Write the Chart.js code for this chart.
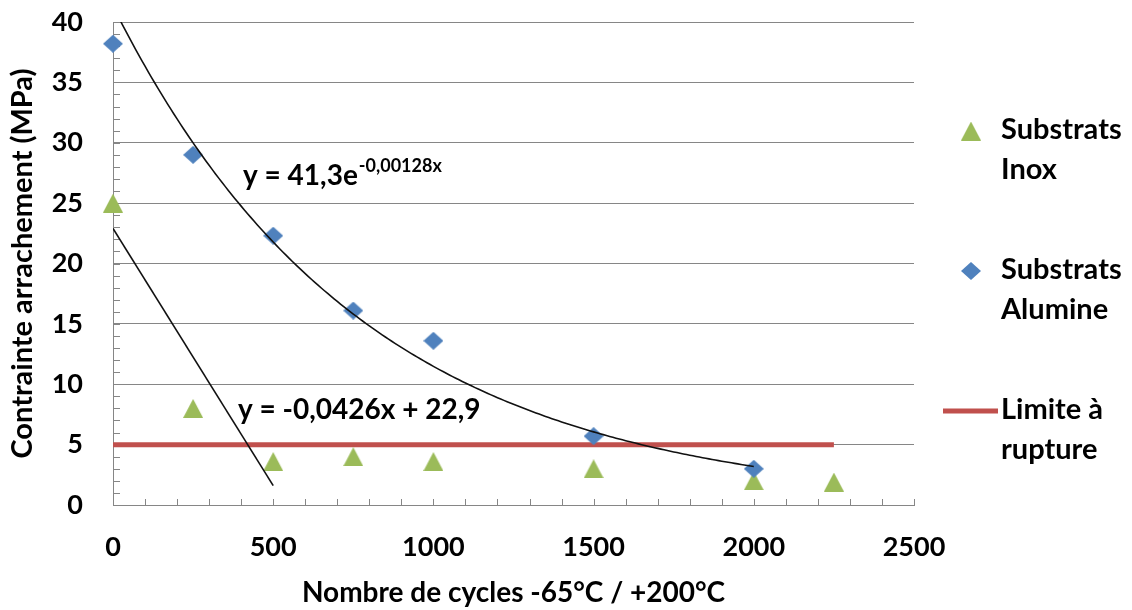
<!DOCTYPE html>
<html>
<head>
<meta charset="utf-8">
<script src="https://cdn.jsdelivr.net/npm/chart.js@4.4.0/dist/chart.umd.min.js"></script>
<style>
  html, body { margin: 0; padding: 0; background: #ffffff; }
  #wrap { width: 1132px; height: 610px; position: relative; }
</style>
</head>
<body>
<div id="wrap"><canvas id="c" width="1132" height="610"></canvas></div>
<script>
// ---------- DATA ----------
const cyclesInox     = [0, 250, 500, 750, 1000, 1500, 2000, 2250];
const stressInox     = [25, 8, 3.6, 4, 3.6, 3, 2, 1.9];
const cyclesAlumine  = [0, 250, 500, 750, 1000, 1500, 2000];
const stressAlumine  = [38.2, 29, 22.3, 16.1, 13.6, 5.7, 3];
const limitCycles    = [0, 2250];
const limitStress    = [5, 5];
const expTrendCoef   = [41.3, -0.00128];   // y = a * e^(b x)
const expTrendRange  = [0, 2000];
const linTrendCoef   = [-0.0426, 22.9];    // y = m x + c
const linTrendRange  = [0, 500];
const xTickValues    = [0, 500, 1000, 1500, 2000, 2500];
const yTickValues    = [0, 5, 10, 15, 20, 25, 30, 35, 40];
const seriesNames    = [['Substrats', 'Inox'], ['Substrats', 'Alumine'], ['Limite à', 'rupture']];
const expEqMain      = 'y = 41,3e';
const expEqSup       = '-0,00128x';
const linEq          = 'y = -0,0426x + 22,9';
const xTitle         = 'Nombre de cycles -65°C / +200°C';
const yTitle         = 'Contrainte arrachement (MPa)';

// ---------- STYLE ----------
const GREEN = '#9BBB59', BLUE = '#4F81BD', RED = '#C0504D', GRID = '#868686';
const FONT = 'Lato';

function makeTriangle() {
  const c = document.createElement('canvas'); c.width = 20; c.height = 19;
  const g = c.getContext('2d'); g.fillStyle = GREEN;
  g.beginPath(); g.moveTo(10, 0); g.lineTo(20, 19); g.lineTo(0, 19); g.closePath(); g.fill();
  return c;
}
function makeDiamond() {
  const c = document.createElement('canvas'); c.width = 20; c.height = 18;
  const g = c.getContext('2d'); g.fillStyle = BLUE;
  g.beginPath(); g.moveTo(10, 0); g.lineTo(20, 9); g.lineTo(10, 18); g.lineTo(0, 9); g.closePath(); g.fill();
  return c;
}
const triImg = makeTriangle();
const diaImg = makeDiamond();

function trendPoints(range, fn, step) {
  const pts = [];
  for (let x = range[0]; x <= range[1] + 1e-9; x += step) pts.push({ x: x, y: fn(x) });
  return pts;
}
const expTrend = trendPoints(expTrendRange, x => expTrendCoef[0] * Math.exp(expTrendCoef[1] * x), 10);
const linTrend = trendPoints(linTrendRange, x => linTrendCoef[0] * x + linTrendCoef[1], 500);

const zip = (xs, ys) => xs.map((x, i) => ({ x: x, y: ys[i] }));

const extras = {
  id: 'extras',
  beforeDatasetsDraw(chart) {
    const { ctx, scales: { x, y } } = chart;
    ctx.save();
    ctx.strokeStyle = GRID; ctx.lineWidth = 1;
    ctx.beginPath();
    for (let v = y.min; v <= y.max; v += 1) {
      const py = Math.round(y.getPixelForValue(v)) + 0.5;
      ctx.moveTo(x.left, py); ctx.lineTo(x.left + 7, py);
    }
    for (let v = x.min; v <= x.max; v += 100) {
      const px = Math.round(x.getPixelForValue(v)) + 0.5;
      ctx.moveTo(px, y.bottom); ctx.lineTo(px, y.bottom - 6);
    }
    ctx.stroke();
    ctx.restore();
  },
  afterDraw(chart) {
    const { ctx } = chart;
    ctx.save();
    ctx.fillStyle = '#000';
    ctx.textBaseline = 'alphabetic';
    ctx.textAlign = 'left';
    // equations
    ctx.font = 'bold 28px ' + FONT;
    ctx.fillText(expEqMain, 243, 185);
    const w = ctx.measureText(expEqMain).width;
    ctx.font = 'bold 18px ' + FONT;
    ctx.fillText(expEqSup, 243 + w + 1, 172);
    ctx.font = 'bold 28px ' + FONT;
    ctx.fillText(linEq, 238, 419);
    // legend
    ctx.textBaseline = 'middle';
    const tops = [130, 270, 410];
    const markers = [triImg, diaImg, null];
    for (let i = 0; i < 3; i++) {
      const cy = tops[i];
      if (markers[i]) {
        const m = markers[i];
        ctx.drawImage(m, 971 - m.width / 2, cy + 1 - m.height / 2);
      } else {
        ctx.strokeStyle = RED; ctx.lineWidth = 5;
        ctx.beginPath(); ctx.moveTo(943, cy + 1); ctx.lineTo(998, cy + 1); ctx.stroke();
      }
      ctx.fillStyle = '#000';
      ctx.font = 'bold 29px ' + FONT;
      ctx.fillText(seriesNames[i][0], 1001, cy);
      ctx.fillText(seriesNames[i][1], 1001, cy + 40);
    }
    ctx.restore();
  }
};

const tickFont = { family: FONT, size: 27, weight: 'bold' };
const titleFont = { family: FONT, size: 28, weight: 'bold' };

new Chart(document.getElementById('c'), {
  type: 'scatter',
  data: {
    datasets: [
      { label: 'Tendance exp', type: 'line', data: expTrend, borderColor: '#111', borderWidth: 1.6,
        pointRadius: 0, fill: false, tension: 0 },
      { label: 'Tendance lin', type: 'line', data: linTrend, borderColor: '#111', borderWidth: 1.6,
        pointRadius: 0, fill: false, tension: 0 },
      { label: seriesNames[1].join(' '), data: zip(cyclesAlumine, stressAlumine), clip: false,
        pointStyle: diaImg, backgroundColor: BLUE, borderColor: BLUE, pointRadius: 10 },
      { label: seriesNames[0].join(' '), data: zip(cyclesInox, stressInox), clip: false,
        pointStyle: triImg, backgroundColor: GREEN, borderColor: GREEN, pointRadius: 10 },
      { label: seriesNames[2].join(' '), type: 'line', data: zip(limitCycles, limitStress),
        borderColor: RED, borderWidth: 5, pointRadius: 0, fill: false }
    ]
  },
  options: {
    responsive: false,
    animation: false,
    devicePixelRatio: 1,
    layout: { padding: { top: 22, right: 218, bottom: 0, left: 0 } },
    plugins: { legend: { display: false }, tooltip: { enabled: false } },
    scales: {
      x: {
        type: 'linear', min: 0, max: 2500,
        afterBuildTicks: s => { s.ticks = xTickValues.map(v => ({ value: v })); },
        afterFit: s => { s.height = 105; },
        ticks: { font: tickFont, color: '#000', padding: 0, maxRotation: 0, callback: v => String(v) },
        grid: { display: true, drawOnChartArea: false, drawTicks: true, tickLength: 26, tickColor: 'rgba(0,0,0,0)' },
        border: { display: true, color: GRID, width: 1 },
        title: { display: true, text: xTitle, font: titleFont, color: '#000', padding: { top: 0, bottom: 0 } }
      },
      y: {
        type: 'linear', min: 0, max: 40,
        afterBuildTicks: s => { s.ticks = yTickValues.map(v => ({ value: v })); },
        afterFit: s => { s.width = 113; },
        ticks: { font: tickFont, color: '#000', padding: 0, callback: v => String(v) },
        grid: { color: GRID, lineWidth: 1, drawTicks: true, tickLength: 30, tickColor: 'rgba(0,0,0,0)' },
        border: { display: true, color: GRID, width: 1 },
        title: { display: true, text: yTitle, font: { family: FONT, size: 29, weight: 'bold' }, color: '#000', padding: { top: 5, bottom: 0 } }
      }
    }
  },
  plugins: [extras]
});
</script>
</body>
</html>
